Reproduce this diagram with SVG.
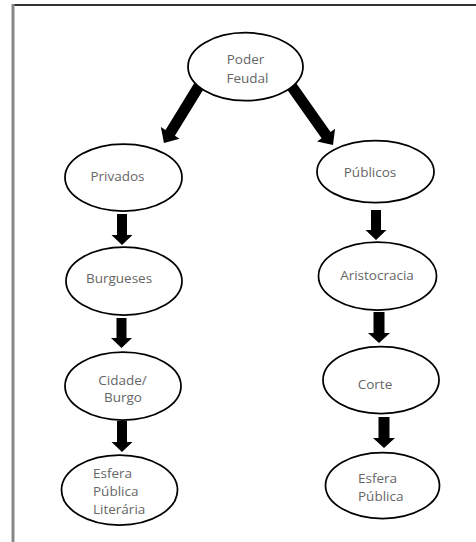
<svg xmlns="http://www.w3.org/2000/svg" width="476" height="542" viewBox="0 0 476 542">
<style>
  .node ellipse { fill: #ffffff; stroke: #000000; stroke-width: 1.75; }
  .node text { font-family: "Open Sans", "Liberation Sans", sans-serif; font-size: 13.5px; fill: #666666; }
  .c { text-anchor: middle; }
  .arrow { fill: #000000; }
</style>
<rect x="0" y="0" width="476" height="542" fill="#ffffff"/>
<g id="frame">
  <line x1="13" y1="5" x2="476" y2="5" stroke="#333333" stroke-width="2"/>
  <line x1="13" y1="4" x2="13" y2="542" stroke="#888888" stroke-width="3"/>
</g>
<g id="connectors">
  <path class="arrow" transform="translate(199,86) rotate(31.55)" d="M-5.5,0 H5.5 V55 H11 L0,67 L-11,55 H-5.5 Z"/>
  <path class="arrow" transform="translate(290,84) rotate(-35.2)" d="M-5.5,0 H5.5 V62.6 H11 L0,74.6 L-11,62.6 H-5.5 Z"/>
  <path class="arrow" transform="translate(122,214)" d="M-5,0 H5 V21 H10.5 L0,31 L-10.5,21 H-5 Z"/>
  <path class="arrow" transform="translate(121.5,318)" d="M-5,0 H5 V20 H10.5 L0,30 L-10.5,20 H-5 Z"/>
  <path class="arrow" transform="translate(122,421)" d="M-5,0 H5 V21 H10.5 L0,31 L-10.5,21 H-5 Z"/>
  <path class="arrow" transform="translate(376,210)" d="M-5,0 H5 V20 H10.5 L0,30 L-10.5,20 H-5 Z"/>
  <path class="arrow" transform="translate(379,312)" d="M-5.5,0 H5.5 V21 H11 L0,31 L-11,21 H-5.5 Z"/>
  <path class="arrow" transform="translate(384,417)" d="M-5.5,0 H5.5 V21 H11 L0,31 L-11,21 H-5.5 Z"/>
</g>
<g id="poder-feudal" class="node">
  <ellipse cx="245.5" cy="66.7" rx="57.5" ry="34"/>
  <text class="c" x="245.5" y="64">Poder</text>
  <text class="c" x="247.5" y="83">Feudal</text>
</g>
<g id="privados" class="node">
  <ellipse cx="123.5" cy="177.5" rx="58.5" ry="33.5"/>
  <text class="c" x="117.5" y="181">Privados</text>
</g>
<g id="publicos" class="node">
  <ellipse cx="375.5" cy="171.7" rx="58.5" ry="31"/>
  <text class="c" x="370" y="177">Públicos</text>
</g>
<g id="burgueses" class="node">
  <ellipse cx="124" cy="281" rx="58" ry="34"/>
  <text class="c" x="119" y="283">Burgueses</text>
</g>
<g id="aristocracia" class="node">
  <ellipse cx="377.5" cy="276" rx="59" ry="34"/>
  <text class="c" x="377" y="280">Aristocracia</text>
</g>
<g id="cidade-burgo" class="node">
  <ellipse cx="123" cy="386" rx="58" ry="34"/>
  <text class="c" x="122.5" y="385">Cidade/</text>
  <text class="c" x="123" y="402">Burgo</text>
</g>
<g id="corte" class="node">
  <ellipse cx="381" cy="380" rx="58" ry="33.5"/>
  <text class="c" x="375" y="389">Corte</text>
</g>
<g id="esfera-publica-literaria" class="node">
  <ellipse cx="119.5" cy="490" rx="58" ry="35"/>
  <text x="93" y="478">Esfera</text>
  <text x="93" y="496">Pública</text>
  <text x="93" y="514">Literária</text>
</g>
<g id="esfera-publica" class="node">
  <ellipse cx="382.5" cy="485.5" rx="57" ry="33"/>
  <text x="358" y="483">Esfera</text>
  <text x="358" y="501">Pública</text>
</g>
</svg>
